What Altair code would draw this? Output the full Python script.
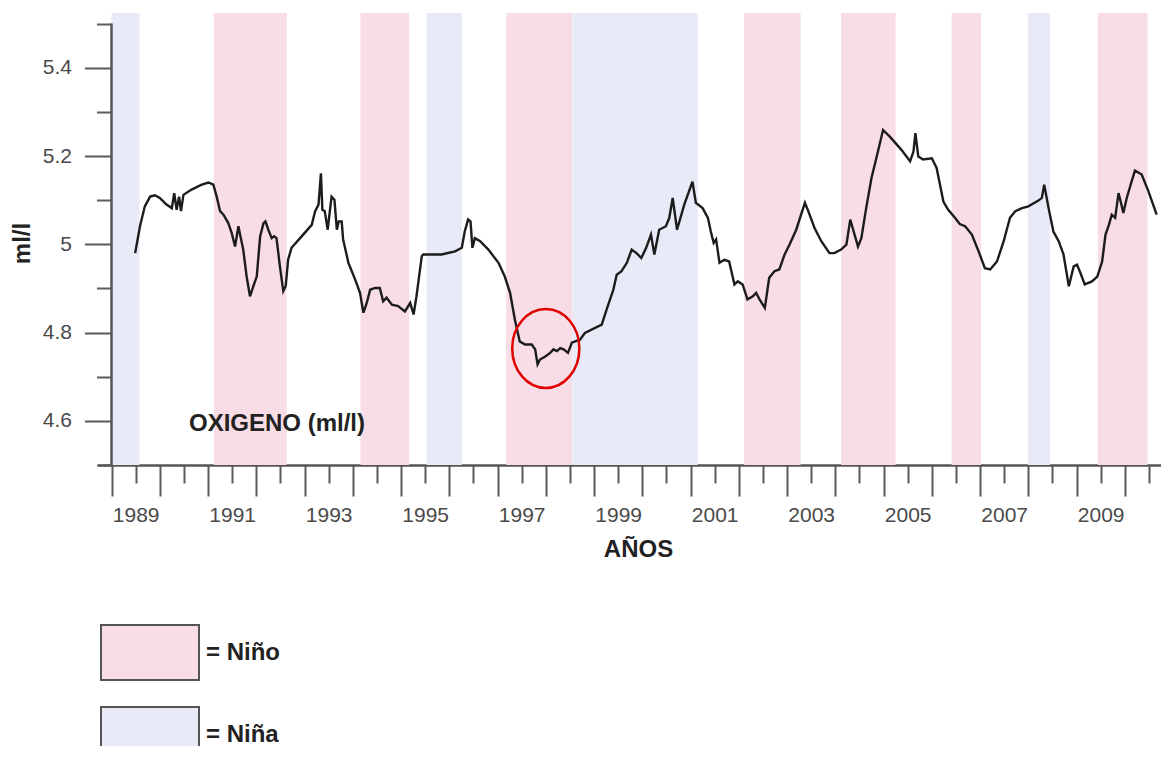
import altair as alt
import pandas as pd

# ---------------- data ----------------
years = [
    1989.49, 1989.59, 1989.69, 1989.80, 1989.90, 1990.00, 1990.14, 1990.25, 1990.30, 1990.35,
    1990.40, 1990.44, 1990.49, 1990.66, 1990.87, 1991.01, 1991.11, 1991.18, 1991.25, 1991.32,
    1991.42, 1991.49, 1991.56, 1991.63, 1991.68, 1991.73, 1991.80, 1991.87, 1991.94, 1992.01,
    1992.08, 1992.15, 1992.19, 1992.25, 1992.32, 1992.37, 1992.42, 1992.49, 1992.56, 1992.61,
    1992.66, 1992.73, 1992.94, 1993.15, 1993.22, 1993.29, 1993.34, 1993.37, 1993.42, 1993.48,
    1993.56, 1993.62, 1993.67, 1993.71, 1993.77, 1993.80, 1993.91, 1994.05, 1994.15, 1994.22,
    1994.29, 1994.36, 1994.46, 1994.56, 1994.63, 1994.70, 1994.81, 1994.94, 1995.08, 1995.19,
    1995.26, 1995.32, 1995.43, 1995.46, 1995.84, 1996.12, 1996.26, 1996.32, 1996.39, 1996.44,
    1996.48, 1996.53, 1996.64, 1996.81, 1997.02, 1997.15, 1997.26, 1997.36, 1997.46, 1997.57,
    1997.71, 1997.78, 1997.83, 1997.88, 1997.99, 1998.09, 1998.16, 1998.23, 1998.30, 1998.37,
    1998.46, 1998.54, 1998.61, 1998.71, 1998.81, 1999.16, 1999.26, 1999.40, 1999.47, 1999.57,
    1999.68, 1999.78, 1999.88, 1999.98, 2000.08, 2000.18, 2000.25, 2000.35, 2000.49, 2000.56,
    2000.63, 2000.72, 2000.87, 2001.04, 2001.11, 2001.25, 2001.36, 2001.42, 2001.48, 2001.53,
    2001.60, 2001.70, 2001.80, 2001.91, 2001.98, 2002.08, 2002.18, 2002.29, 2002.36, 2002.43,
    2002.54, 2002.63, 2002.74, 2002.84, 2002.95, 2003.05, 2003.19, 2003.37, 2003.43, 2003.57,
    2003.71, 2003.88, 2003.98, 2004.12, 2004.23, 2004.31, 2004.36, 2004.47, 2004.54, 2004.64,
    2004.75, 2004.85, 2004.99, 2005.13, 2005.37, 2005.55, 2005.62, 2005.66, 2005.72, 2005.82,
    2006.00, 2006.10, 2006.17, 2006.24, 2006.34, 2006.48, 2006.58, 2006.69, 2006.83, 2006.97,
    2007.10, 2007.21, 2007.35, 2007.49, 2007.62, 2007.73, 2007.87, 2008.00, 2008.21, 2008.28,
    2008.33, 2008.42, 2008.52, 2008.63, 2008.73, 2008.84, 2008.94, 2009.01, 2009.08, 2009.17,
    2009.32, 2009.43, 2009.53, 2009.60, 2009.67, 2009.73, 2009.80, 2009.87, 2009.92, 2009.97,
    2010.04, 2010.14, 2010.21, 2010.35, 2010.49, 2010.66,
]
oxygen = [
    4.980, 5.041, 5.086, 5.108, 5.111, 5.105, 5.090, 5.082, 5.116, 5.078,
    5.108, 5.075, 5.112, 5.124, 5.135, 5.140, 5.135, 5.108, 5.075, 5.067,
    5.048, 5.026, 4.995, 5.041, 5.014, 4.988, 4.927, 4.882, 4.905, 4.927,
    5.018, 5.048, 5.052, 5.033, 5.014, 5.018, 5.014, 4.950, 4.894, 4.905,
    4.965, 4.992, 5.018, 5.044, 5.075, 5.090, 5.161, 5.078, 5.075, 5.033,
    5.108, 5.101, 5.033, 5.052, 5.052, 5.011, 4.958, 4.920, 4.890, 4.845,
    4.867, 4.897, 4.901, 4.901, 4.871, 4.879, 4.863, 4.860, 4.848, 4.867,
    4.841, 4.882, 4.973, 4.977, 4.977, 4.984, 4.992, 5.029, 5.056, 5.052,
    4.992, 5.014, 5.007, 4.988, 4.958, 4.927, 4.890, 4.829, 4.780, 4.773,
    4.773, 4.762, 4.728, 4.739, 4.746, 4.754, 4.762, 4.758, 4.765, 4.762,
    4.754, 4.777, 4.780, 4.784, 4.799, 4.818, 4.852, 4.897, 4.931, 4.939,
    4.958, 4.988, 4.980, 4.969, 4.992, 5.022, 4.977, 5.033, 5.041, 5.060,
    5.105, 5.033, 5.090, 5.142, 5.094, 5.082, 5.060, 5.029, 5.003, 5.011,
    4.958, 4.965, 4.961, 4.909, 4.916, 4.909, 4.875, 4.882, 4.890, 4.875,
    4.856, 4.924, 4.939, 4.943, 4.977, 4.999, 5.033, 5.094, 5.078, 5.037,
    5.007, 4.980, 4.980, 4.988, 4.999, 5.056, 5.037, 4.995, 5.014, 5.082,
    5.150, 5.195, 5.259, 5.244, 5.214, 5.188, 5.210, 5.252, 5.199, 5.192,
    5.195, 5.173, 5.135, 5.097, 5.078, 5.060, 5.046, 5.041, 5.022, 4.984,
    4.946, 4.943, 4.961, 5.007, 5.060, 5.075, 5.082, 5.086, 5.099, 5.105,
    5.135, 5.082, 5.029, 5.007, 4.977, 4.905, 4.950, 4.954, 4.935, 4.909,
    4.916, 4.927, 4.961, 5.022, 5.044, 5.067, 5.060, 5.116, 5.094, 5.071,
    5.105, 5.142, 5.167, 5.158, 5.120, 5.067,
]

band_start = [1989.00, 1991.12, 1994.16, 1995.53, 1997.18, 1998.55, 2002.11, 2004.12, 2006.41, 2007.99, 2009.44]
band_end   = [1989.58, 1992.63, 1995.17, 1996.26, 1998.55, 2001.15, 2003.28, 2005.25, 2007.02, 2008.45, 2010.47]
band_phase = ["Niña", "Niño", "Niño", "Niña", "Niño", "Niña", "Niño", "Niño", "Niño", "Niña", "Niño"]

phase_names = ["Niño", "Niña"]
phase_colors = ["#f8dde6", "#e9eaf8"]

year_start_ticks = [1989 + i for i in range(22)]           # long ticks, 1989 ... 2010
mid_year_ticks = [1989.5 + i for i in range(22)]           # short ticks, 1989.5 ... 2010.5
y_tick_values = [round(4.5 + 0.1 * i, 1) for i in range(11)]  # 4.5 ... 5.5

axis_line_year = [1989.0]
axis_line_low = [4.5]
axis_line_high = [5.5]

note_year = [1992.43]
note_value = [4.592]
note_text = ["OXIGENO (ml/l)"]

circle_year = [1998.0]
circle_value = [4.764]

X_DOMAIN = [1988.72, 2010.75]
Y_DOMAIN = [4.5, 5.524]

# ---------------- tables ----------------
line_df = pd.DataFrame({"year": years, "ox": oxygen})
band_df = pd.DataFrame({"start": band_start, "end": band_end, "fase": band_phase})
axis_df = pd.DataFrame({"year": axis_line_year, "lo": axis_line_low, "hi": axis_line_high})
note_df = pd.DataFrame({"year": note_year, "ox": note_value, "txt": note_text})
circ_df = pd.DataFrame({"year": circle_year, "ox": circle_value})

FONT = "Liberation Sans"
xscale = alt.Scale(domain=X_DOMAIN, nice=False, zero=False)
yscale = alt.Scale(domain=Y_DOMAIN, nice=False, zero=False)

# long ticks at the start of every year, with the axis line
x_axis_long = alt.Axis(
    orient="bottom",
    values=year_start_ticks,
    title=None,
    labels=False,
    tickSize=31,
    tickColor="#5a5a5a", tickWidth=2,
    domain=True, domainColor="#555555", domainWidth=2.5,
    grid=False,
)

# short ticks at mid-year, labelled every other year
x_axis_short = alt.Axis(
    orient="bottom",
    values=mid_year_ticks,
    title="AÑOS",
    domain=False,
    labelExpr="datum.value % 2 == 1.5 ? format(datum.value - 0.5, 'd') : ''",
    tickSize=18,
    labelPadding=21,
    labelOverlap=False,
    labelFlush=False,
    labelFont=FONT, labelFontSize=21, labelColor="#4a4a4a",
    tickColor="#5a5a5a", tickWidth=2,
    titleFont=FONT, titleFontSize=24, titleFontWeight="bold", titleColor="#222222",
    titleX=540, titleY=84, titleBaseline="middle", titleAlign="center",
    grid=False,
)

y_axis = alt.Axis(
    values=y_tick_values,
    title="ml/l",
    orient="left",
    offset=-13.5,
    domain=False,
    labelExpr="abs(datum.value*5 - round(datum.value*5)) < 0.001 ? format(datum.value, '~g') : ''",
    tickSize={"condition": {"test": "abs(datum.value*5 - round(datum.value*5)) < 0.001", "value": 27}, "value": 15},
    labelPadding=13,
    labelOverlap=False,
    labelFont=FONT, labelFontSize=21, labelColor="#4a4a4a",
    tickColor="#5a5a5a", tickWidth=2,
    titleFont=FONT, titleFontSize=24, titleFontWeight="bold", titleColor="#222222",
    titleX=-89.5, titleY=230, titleBaseline="middle", titleAlign="center",
    grid=False,
)

bands = alt.Chart(band_df).mark_rect(opacity=1).encode(
    x=alt.X("start:Q", scale=xscale, axis=x_axis_long),
    x2="end:Q",
    color=alt.Color(
        "fase:N",
        scale=alt.Scale(domain=phase_names, range=phase_colors),
        legend=alt.Legend(
            title=None, orient="none", legendX=2, legendY=589.5, padding=0,
            symbolType="M-1,-0.56H1V0.56H-1Z", symbolSize=9604,
            symbolStrokeColor="#555555", symbolStrokeWidth=2, symbolOpacity=1,
            labelExpr="'= ' + datum.label",
            labelFont=FONT, labelFontSize=24, labelFontWeight="bold", labelColor="#222222",
            labelOffset=6, rowPadding=-17, labelLimit=300,
        ),
    ),
)

yline = alt.Chart(axis_df).mark_rule(color="#555555", strokeWidth=2.5).encode(
    x=alt.X("year:Q", scale=xscale, axis=None),
    y=alt.Y("lo:Q", scale=yscale, axis=y_axis),
    y2="hi:Q",
)

series = alt.Chart(line_df).mark_line(color="#1c1c1c", strokeWidth=2.4).encode(
    x=alt.X("year:Q", scale=xscale, axis=x_axis_short),
    y=alt.Y("ox:Q", scale=yscale),
)

note = alt.Chart(note_df).mark_text(
    font=FONT, fontSize=24, fontWeight="bold", color="#222222", align="center", baseline="middle"
).encode(
    x=alt.X("year:Q", scale=xscale, axis=None),
    y=alt.Y("ox:Q", scale=yscale),
    text="txt:N",
)

ring = alt.Chart(circ_df).mark_point(
    shape="M-0.85,0A0.85,1 0 1,0 0.85,0A0.85,1 0 1,0 -0.85,0Z",
    size=6241, filled=False, stroke="#e00000", strokeWidth=2.5, opacity=1,
).encode(
    x=alt.X("year:Q", scale=xscale, axis=None),
    y=alt.Y("ox:Q", scale=yscale),
)

chart = (
    alt.layer(bands, yline, series, note, ring)
    .resolve_axis(x="independent")
    .properties(
        width=1063, height=452,
        background="white",
        autosize=alt.AutoSizeParams(type="none"),
        padding={"left": 90, "top": 5, "right": 0, "bottom": 281},
    )
    .configure_view(stroke=None, strokeWidth=0)
)

chart.save("out.html", embed_options={"renderer": "svg", "actions": False})
